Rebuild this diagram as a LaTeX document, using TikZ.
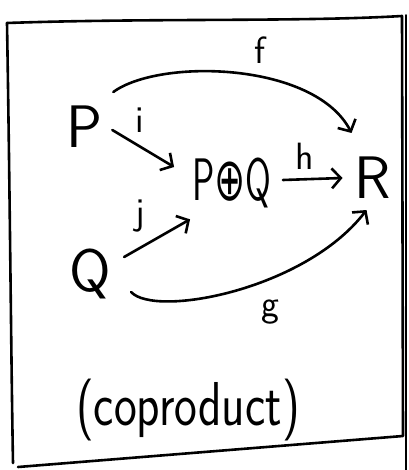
\documentclass[tikz,border=0pt]{standalone}
\usepackage{fontspec}
\newfontfamily\djv{DejaVu Sans}
\usetikzlibrary{arrows.meta}
\begin{document}
\begin{tikzpicture}[x=1pt,y=-1pt,line width=2.6pt,line cap=round,line join=round,
  obj/.style={font=\fontsize{60}{60}\selectfont\sffamily,inner sep=0pt},
  lbl/.style={font=\fontsize{38}{38}\selectfont\sffamily,inner sep=0pt},
  arr/.style={-{Straight Barb[length=9pt,width=20pt]}}]
\useasboundingbox (0,0) rectangle (408,470);
% frame
\draw (7,23) .. controls (150,18) and (300,22) .. (402,16) -- (403,436) -- (18,467);
\draw (7,23) .. controls (10,200) and (11,350) .. (13,463);
\draw[line width=1.6pt] (406,15) -- (406,470);
% objects
\node[obj] (P) at (84,127) {P};
\node[obj] (S) at (232,183) {\scalebox{0.62}[1]{P{\djv ⊕}Q}};
\node[obj] (R) at (373,178) {R};
\node[obj] (Q) at (90,274) {Q};
% labels
\node[lbl] (lf) at (260,50) {f};
\node[lbl] (li) at (140,120) {i};
\node[lbl] (lh) at (305,156) {h};
\node[lbl] (lj) at (140,216) {j};
\node[lbl] (lg) at (270,312) {g};
\node[font=\fontsize{62}{62}\selectfont\sffamily,inner sep=0pt] (cap) at (188,410) {\scalebox{0.78}[1]{(coproduct)}};
% arrows
\draw[arr] ([shift={(9,3)}]P.east) -- ([shift={(-17,-16)}]S.west);
\draw[arr] ([shift={(12,-17)}]Q.east) -- ([shift={(-1,10)}]S.south west);
\draw[arr] ([shift={(10,-3)}]S.east) -- ([shift={(-11,0)}]R.west);
\draw[arr] ([shift={(10,-35)}]P.east) .. controls (160,58) and (315,62) .. ([shift={(-2,-45)}]R.west);
\draw[arr] ([shift={(19,18)}]Q.east) .. controls (155,318) and (305,290) .. ([shift={(13,32)}]R.west);
\end{tikzpicture}
\end{document}
